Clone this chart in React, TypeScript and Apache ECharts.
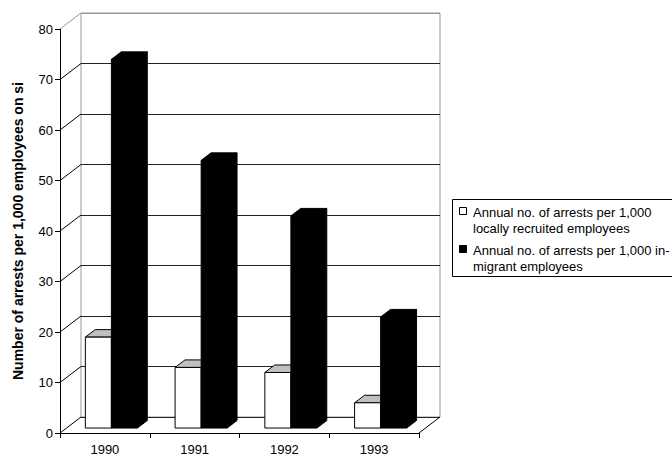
import React, { useEffect, useRef } from "react";
import * as echarts from "echarts";

// Annual arrests per 1,000 employees, by year and recruitment origin
const CATEGORIES = ["1990", "1991", "1992", "1993"];
const LOCAL_ARRESTS = [18, 12, 11, 5];
const MIGRANT_ARRESTS = [73, 53, 42, 22];
const SERIES_NAMES = [
  "Annual no. of arrests per 1,000 locally recruited employees",
  "Annual no. of arrests per 1,000 in-migrant employees",
];
const LEGEND_LINES = [
  ["Annual no. of arrests per 1,000", "locally recruited employees"],
  ["Annual no. of arrests per 1,000 in-", "migrant employees"],
];
const Y_TICKS = [0, 10, 20, 30, 40, 50, 60, 70, 80];
const Y_TITLE = "Number of arrests per 1,000 employees on si";

// 3-D projection of the plot box
const DEPTH_DX = 21;
const DEPTH_DY = -16;
const BAR_PLANE = 0.31; // how far back the bars stand
const BAR_DEPTH = 0.47; // thickness of each bar (fraction of full depth)
const BAR_FRAC = 0.29; // bar width as a fraction of a category band

const FRONT = { left: 60, top: 29, width: 359, height: 404 };
const FONT = '"Liberation Sans", Arial, Helvetica, sans-serif';

function barRenderer(slot: number, face: string, top: string, side: string) {
  return (params: any, api: any) => {
    const cat = api.value(0);
    const v = api.value(1);
    const base = api.coord([cat, 0]);
    const tip = api.coord([cat, v]);
    const band = api.size([1, 0])[0];
    const w = band * BAR_FRAC;
    const px = DEPTH_DX * BAR_PLANE;
    const py = DEPTH_DY * BAR_PLANE;
    const x0 = base[0] + px + (slot === 0 ? -w : 0);
    const x1 = x0 + w;
    const yb = base[1] + py;
    const yt = tip[1] + py;
    const dx = DEPTH_DX * BAR_DEPTH;
    const dy = DEPTH_DY * BAR_DEPTH;
    const stroke = "#000";
    return {
      type: "group",
      children: [
        {
          type: "polygon",
          shape: { points: [[x1, yb], [x1 + dx, yb + dy], [x1 + dx, yt + dy], [x1, yt]] },
          style: { fill: side, stroke, lineWidth: 1 },
        },
        {
          type: "polygon",
          shape: { points: [[x0, yt], [x0 + dx, yt + dy], [x1 + dx, yt + dy], [x1, yt]] },
          style: { fill: top, stroke, lineWidth: 1 },
        },
        {
          type: "rect",
          shape: { x: x0, y: yt, width: w, height: yb - yt },
          style: { fill: face, stroke, lineWidth: 1 },
        },
      ],
    };
  };
}

function wallRenderer(params: any, api: any) {
  const v = api.value(1);
  const y = api.coord([0, v])[1];
  const cs = params.coordSys;
  const children: any[] = [
    {
      type: "line",
      shape: { x1: cs.x, y1: y, x2: cs.x + DEPTH_DX, y2: y + DEPTH_DY },
      style: { stroke: v === Y_TICKS[Y_TICKS.length - 1] ? "#999" : "#000", lineWidth: 1 },
    },
  ];
  if (v === 0) {
    children.push({
      type: "line",
      shape: {
        x1: cs.x + cs.width,
        y1: y,
        x2: cs.x + cs.width + DEPTH_DX,
        y2: y + DEPTH_DY,
      },
      style: { stroke: "#000", lineWidth: 1 },
    });
  }
  return { type: "group", children };
}

export default function App() {
  const ref = useRef<HTMLDivElement>(null);

  useEffect(() => {
    if (!ref.current) return;
    const chart = echarts.init(ref.current, undefined, { renderer: "svg" });

    const gridColors = Y_TICKS.map((v, i) =>
      i === Y_TICKS.length - 1 ? "#999" : "#222"
    );

    chart.setOption({
      animation: false,
      backgroundColor: "#fff",
      textStyle: { fontFamily: FONT },
      grid: [
        {
          left: FRONT.left + DEPTH_DX,
          top: FRONT.top + DEPTH_DY,
          width: FRONT.width,
          height: FRONT.height,
          show: true,
          borderColor: "#999",
          borderWidth: 1,
          backgroundColor: "transparent",
        },
        {
          left: FRONT.left,
          top: FRONT.top,
          width: FRONT.width,
          height: FRONT.height,
        },
      ],
      xAxis: [
        { gridIndex: 0, type: "value", min: 0, max: 1, show: false },
        {
          gridIndex: 1,
          type: "category",
          data: CATEGORIES,
          boundaryGap: true,
          axisLine: { show: true, lineStyle: { color: "#000", width: 1 } },
          axisTick: { show: true, length: 5, lineStyle: { color: "#000" } },
          axisLabel: { color: "#000", fontSize: 13, fontFamily: FONT, margin: 10 },
          splitLine: { show: false },
        },
      ],
      yAxis: [
        {
          gridIndex: 0,
          type: "value",
          min: 0,
          max: 80,
          interval: 10,
          axisLine: { show: false },
          axisTick: { show: false },
          axisLabel: { show: false },
          splitLine: { show: true, lineStyle: { color: gridColors, width: 1 } },
        },
        {
          gridIndex: 1,
          type: "value",
          min: 0,
          max: 80,
          interval: 10,
          axisLine: { show: true, lineStyle: { color: "#000", width: 1 } },
          axisTick: { show: true, length: 5, lineStyle: { color: "#000" } },
          axisLabel: { color: "#000", fontSize: 13, fontFamily: FONT, margin: 7 },
          splitLine: { show: false },
          name: Y_TITLE,
          nameLocation: "middle",
          nameRotate: 90,
          nameGap: 35,
          nameTextStyle: {
            color: "#000",
            fontSize: 14,
            fontWeight: "bold",
            fontFamily: FONT,
          },
        },
      ],
      series: [
        {
          type: "custom",
          name: "walls",
          xAxisIndex: 1,
          yAxisIndex: 1,
          silent: true,
          clip: false,
          data: Y_TICKS.map((v) => [0, v]),
          encode: { x: 0, y: 1 },
          renderItem: wallRenderer,
          z: 1,
        },
        {
          type: "custom",
          name: SERIES_NAMES[0],
          xAxisIndex: 1,
          yAxisIndex: 1,
          clip: false,
          data: CATEGORIES.map((_, i) => [i, LOCAL_ARRESTS[i]]),
          encode: { x: 0, y: 1 },
          renderItem: barRenderer(0, "#fff", "#c0c0c0", "#999"),
          z: 3,
        },
        {
          type: "custom",
          name: SERIES_NAMES[1],
          xAxisIndex: 1,
          yAxisIndex: 1,
          clip: false,
          data: CATEGORIES.map((_, i) => [i, MIGRANT_ARRESTS[i]]),
          encode: { x: 0, y: 1 },
          renderItem: barRenderer(1, "#000", "#000", "#000"),
          z: 4,
        },
      ],
      graphic: [
        {
          type: "rect",
          shape: { x: 452.5, y: 199.5, width: 260, height: 77 },
          style: { fill: "#fff", stroke: "#000", lineWidth: 1 },
        },
        {
          type: "rect",
          shape: { x: 459.5, y: 207.5, width: 7, height: 7 },
          style: { fill: "#fff", stroke: "#000", lineWidth: 1 },
        },
        {
          type: "text",
          x: 473,
          y: 204,
          style: {
            text: LEGEND_LINES[0].join("\n"),
            fontSize: 13,
            fontFamily: FONT,
            lineHeight: 16,
            fill: "#000",
            verticalAlign: "top",
          },
        },
        {
          type: "rect",
          shape: { x: 459.5, y: 245.5, width: 7, height: 7 },
          style: { fill: "#000", stroke: "#000", lineWidth: 1 },
        },
        {
          type: "text",
          x: 473,
          y: 242,
          style: {
            text: LEGEND_LINES[1].join("\n"),
            fontSize: 13,
            fontFamily: FONT,
            lineHeight: 16,
            fill: "#000",
            verticalAlign: "top",
          },
        },
      ],
    });

    return () => chart.dispose();
  }, []);

  return (
    <div
      ref={ref}
      style={{ position: "fixed", left: 0, top: 0, width: 672, height: 456 }}
    />
  );
}
